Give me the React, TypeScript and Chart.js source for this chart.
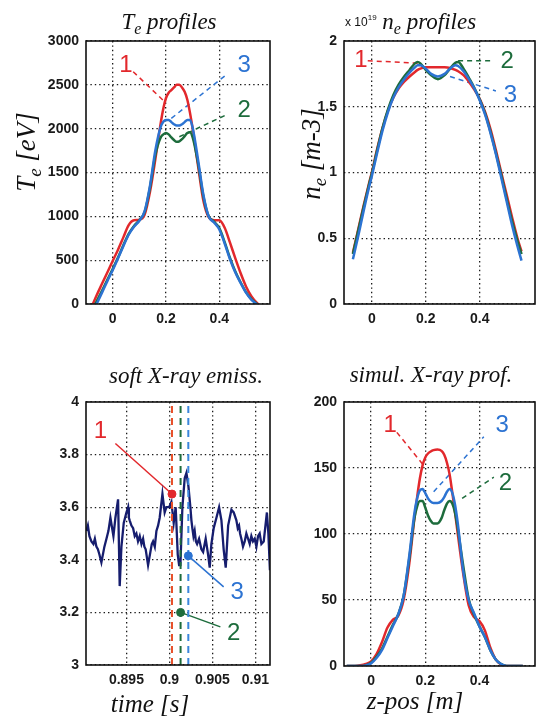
import React, { useEffect, useRef } from "react";
import { Chart, registerables } from "chart.js";
Chart.register(...registerables);

const RED = "#e2282c";
const GREEN = "#1d6c3c";
const BLUE = "#2c73d2";
const NAVY = "#161d6e";

// ---------- T_e profiles ----------
const teZ = [-0.08, -0.06, -0.04, -0.02, 0, 0.02, 0.04, 0.06, 0.08, 0.1, 0.12, 0.14, 0.16, 0.18, 0.19, 0.2, 0.21, 0.22, 0.23, 0.24, 0.25, 0.26, 0.27, 0.28, 0.29, 0.3, 0.32, 0.34, 0.36, 0.38, 0.4, 0.42, 0.44, 0.46, 0.48, 0.5, 0.52, 0.54, 0.56];
const teRed = [-40, 100, 230, 360, 490, 620, 760, 900, 955, 960, 1020, 1280, 1650, 2060, 2230, 2350, 2410, 2440, 2470, 2500, 2500, 2470, 2420, 2330, 2180, 2000, 1580, 1180, 990, 955, 955, 870, 700, 520, 350, 200, 90, 15, -40];
const teGreen = [-90, 30, 150, 275, 400, 530, 670, 800, 890, 955, 1050, 1330, 1700, 1900, 1935, 1950, 1935, 1900, 1870, 1850, 1855, 1880, 1915, 1950, 1960, 1900, 1610, 1230, 1000, 940, 865, 705, 525, 370, 245, 135, 55, 3, -45];
const teBlue = [-130, 0, 130, 260, 386, 520, 660, 790, 880, 950, 1060, 1350, 1750, 2020, 2080, 2100, 2100, 2075, 2050, 2035, 2035, 2050, 2075, 2100, 2100, 2010, 1650, 1250, 1000, 930, 850, 690, 510, 360, 240, 130, 50, 0, -50];

// ---------- n_e profiles (x 10^19) ----------
const neZ = [-0.07, -0.05, -0.03, -0.01, 0, 0.02, 0.04, 0.06, 0.08, 0.1, 0.12, 0.14, 0.16, 0.17, 0.18, 0.2, 0.22, 0.245, 0.27, 0.29, 0.31, 0.32, 0.34, 0.36, 0.38, 0.4, 0.42, 0.44, 0.46, 0.48, 0.5, 0.52, 0.54, 0.555];
const neRed = [0.39, 0.57, 0.75, 0.92, 1.0, 1.18, 1.34, 1.47, 1.57, 1.64, 1.69, 1.73, 1.765, 1.78, 1.79, 1.8, 1.8, 1.8, 1.8, 1.795, 1.78, 1.77, 1.74, 1.69, 1.63, 1.56, 1.46, 1.33, 1.17, 1.0, 0.83, 0.66, 0.5, 0.4];
const neGreen = [0.38, 0.56, 0.74, 0.91, 0.99, 1.17, 1.34, 1.48, 1.59, 1.67, 1.73, 1.78, 1.83, 1.84, 1.83, 1.78, 1.74, 1.71, 1.74, 1.79, 1.835, 1.84, 1.79, 1.72, 1.645, 1.555, 1.45, 1.31, 1.15, 0.98, 0.8, 0.63, 0.48, 0.38];
const neBlue = [0.34, 0.52, 0.71, 0.89, 0.97, 1.15, 1.32, 1.46, 1.57, 1.65, 1.71, 1.76, 1.8, 1.815, 1.815, 1.79, 1.75, 1.73, 1.75, 1.79, 1.815, 1.81, 1.77, 1.71, 1.64, 1.55, 1.44, 1.3, 1.14, 0.96, 0.78, 0.6, 0.44, 0.33];

// ---------- soft X-ray emission ----------
const sxTime = [
  0.89035, 0.89052, 0.8907, 0.89093, 0.89116, 0.89133, 0.89151, 0.89168, 0.89186, 0.89209, 0.89244, 0.89268, 0.89291, 0.89314,
  0.89349, 0.89372, 0.89403, 0.89422, 0.89442, 0.89469, 0.895, 0.8952, 0.89529, 0.89538, 0.89558, 0.89578, 0.89597, 0.89616,
  0.89635, 0.89655, 0.89675, 0.89694, 0.89709, 0.89724, 0.89752, 0.89779, 0.89795, 0.8981, 0.8983, 0.89849, 0.89868, 0.89887,
  0.89919, 0.89945, 0.89965, 0.89997, 0.90023, 0.9005, 0.90073, 0.90097, 0.90113, 0.90128, 0.90151, 0.90178, 0.90198, 0.90221,
  0.90244, 0.90256, 0.90267, 0.9028, 0.90294, 0.90308, 0.90322, 0.90345, 0.90372, 0.90392, 0.90422, 0.9045, 0.90469, 0.90488,
  0.90515, 0.90547, 0.90578, 0.90605, 0.90631, 0.90655, 0.90683, 0.90721, 0.90748, 0.90779, 0.90795, 0.9081, 0.90822, 0.90837,
  0.90856, 0.90876, 0.90895, 0.90915, 0.90934, 0.90953, 0.90972, 0.90992, 0.91012, 0.91031, 0.9105, 0.9107, 0.91097, 0.91134,
  0.91151, 0.91169,
];
const sxSignal = [
  3.51, 3.53, 3.49, 3.47, 3.46, 3.48, 3.45, 3.44, 3.42, 3.39, 3.45, 3.48, 3.51, 3.56,
  3.49, 3.56, 3.63, 3.3, 3.45, 3.54, 3.58, 3.6, 3.56, 3.55, 3.53, 3.52, 3.49, 3.5,
  3.47, 3.49, 3.46, 3.48, 3.45, 3.44, 3.38, 3.43, 3.46, 3.47, 3.45, 3.51, 3.53, 3.56,
  3.65, 3.58, 3.6, 3.6, 3.62, 3.54, 3.6, 3.42, 3.38, 3.38, 3.6, 3.71, 3.73, 3.68,
  3.6, 3.55, 3.52, 3.49, 3.51, 3.47, 3.46, 3.48, 3.44, 3.43, 3.48, 3.42, 3.37, 3.46,
  3.52, 3.56, 3.6, 3.55, 3.44, 3.37, 3.53, 3.59, 3.58, 3.55, 3.52, 3.53, 3.5, 3.48,
  3.45, 3.47, 3.5, 3.48, 3.46, 3.49, 3.47, 3.48, 3.45, 3.49, 3.5, 3.46, 3.47, 3.58,
  3.5, 3.36,
];
const sxMarkTimes = [0.9003, 0.9013, 0.9022]; // 1, 2, 3
const sxMarkValues = [3.65, 3.2, 3.415];

// ---------- simulated X-ray profiles ----------
const xrZ = [-0.09, -0.06, -0.04, -0.02, 0, 0.02, 0.04, 0.06, 0.08, 0.1, 0.12, 0.14, 0.16, 0.17, 0.18, 0.19, 0.2, 0.21, 0.22, 0.23, 0.245, 0.26, 0.27, 0.28, 0.29, 0.3, 0.31, 0.32, 0.34, 0.36, 0.38, 0.4, 0.42, 0.44, 0.46, 0.48, 0.5, 0.53, 0.56];
const xrRed = [0, 0, 0.5, 1.5, 3.5, 9, 18, 29, 35, 38, 50, 76, 112, 128, 142, 152, 158, 161, 162.5, 163.5, 164, 163, 160, 154, 145, 131, 116, 100, 70, 46, 37, 34, 27, 14, 5, 1, 0, 0, 0];
const xrGreen = [0, 0, 0, 0.5, 2.5, 7, 13, 22, 31, 39, 53, 80, 112, 121, 125, 125, 120, 114, 110, 108, 108, 112, 118, 123, 125, 123, 116, 104, 76, 51, 39, 30, 22, 12, 5, 1.5, 0, 0, 0];
const xrBlue = [0, 0, 0, 0.5, 2, 6, 12, 21, 30, 39, 53, 82, 116, 127, 133, 134, 131, 127, 124.5, 123.5, 123.5, 125, 128, 132, 134, 131, 122, 108, 72, 50, 40, 30, 22, 12, 5, 1.5, 0, 0, 0];

// ---------- ticks ----------
const zTicks = [0, 0.2, 0.4];
const zTickLabels = ["0", "0.2", "0.4"];
const teTicks = [0, 500, 1000, 1500, 2000, 2500, 3000];
const teTickLabels = ["0", "500", "1000", "1500", "2000", "2500", "3000"];
const neTicks = [0, 0.5, 1, 1.5, 2];
const neTickLabels = ["0", "0.5", "1", "1.5", "2"];
const sxTicksX = [0.895, 0.9, 0.905, 0.91];
const sxTickLabelsX = ["0.895", "0.9", "0.905", "0.91"];
const sxTicksY = [3, 3.2, 3.4, 3.6, 3.8, 4];
const sxTickLabelsY = ["3", "3.2", "3.4", "3.6", "3.8", "4"];
const xrTicks = [0, 50, 100, 150, 200];
const xrTickLabels = ["0", "50", "100", "150", "200"];

const pts = (xs: number[], ys: number[]) => xs.map((x, i) => ({ x, y: ys[i] }));

const curve = (data: any, color: string, order: number) => ({
  data,
  borderColor: color,
  borderWidth: 2.5,
  pointRadius: 0,
  cubicInterpolationMode: "monotone",
  fill: false,
  order,
});
const leader = (data: any, color: string, dashed = true) => ({
  data,
  borderColor: color,
  borderWidth: 1.5,
  borderDash: dashed ? [5, 4] : [],
  pointRadius: 0,
  tension: 0,
  fill: false,
  order: 10,
});

const SERIF = "'Liberation Serif', 'Times New Roman', serif";
const SANS = "'Liberation Sans', Arial, sans-serif";
const T = (s: number) => `italic ${s}px ${SERIF}`;

type Part = { t: string; f: string; dy?: number };
function rich(ctx: CanvasRenderingContext2D, parts: Part[], x: number, y: number, align: "center" | "left") {
  ctx.textAlign = "left";
  ctx.textBaseline = "alphabetic";
  let w = 0;
  for (const p of parts) {
    ctx.font = p.f;
    w += ctx.measureText(p.t).width;
  }
  let cx = align === "center" ? x - w / 2 : x;
  for (const p of parts) {
    ctx.font = p.f;
    ctx.fillText(p.t, cx, y + (p.dy || 0));
    cx += ctx.measureText(p.t).width;
  }
}

type Mark = { x: number; y: number; text: string; color: string };
type Spec = {
  left: number; top: number; width: number; height: number;
  area: { l: number; t: number; r: number; b: number };
  xMin: number; xMax: number; xTicks: number[]; xLabels: string[];
  yMin: number; yMax: number; yTicks: number[]; yLabels: string[];
  datasets: any[];
  marks: Mark[];
  decorate: (ctx: CanvasRenderingContext2D) => void;
};

function Panel({ spec }: { spec: Spec }) {
  const ref = useRef<HTMLCanvasElement>(null);
  useEffect(() => {
    const tickFont = { family: SANS, size: 14, weight: "bold" as const };
    const grid = { color: "#1a1a1a", lineWidth: 1.3, drawTicks: false };
    const border = { display: false, dash: [1.4, 3] };
    const chart = new Chart(ref.current!, {
      type: "line",
      data: { datasets: spec.datasets },
      options: {
        animation: false,
        responsive: false,
        maintainAspectRatio: false,
        events: [],
        layout: { padding: { left: 0, top: spec.area.t, right: spec.width - spec.area.r, bottom: 0 } },
        plugins: { legend: { display: false }, tooltip: { enabled: false }, title: { display: false } },
        scales: {
          x: {
            type: "linear",
            min: spec.xMin,
            max: spec.xMax,
            afterBuildTicks: (s: any) => { s.ticks = spec.xTicks.map((v) => ({ value: v })); },
            afterFit: (s: any) => { s.height = spec.height - spec.area.b; },
            grid,
            border,
            ticks: { padding: 7, color: "#1a1a1a", font: tickFont, maxRotation: 0, autoSkip: false, callback: (_v: any, i: number) => spec.xLabels[i] },
          },
          y: {
            type: "linear",
            min: spec.yMin,
            max: spec.yMax,
            afterBuildTicks: (s: any) => { s.ticks = spec.yTicks.map((v) => ({ value: v })); },
            afterFit: (s: any) => { s.width = spec.area.l; },
            grid,
            border,
            ticks: { padding: 7, color: "#1a1a1a", font: tickFont, autoSkip: false, callback: (_v: any, i: number) => spec.yLabels[i] },
          },
        },
      } as any,
      plugins: [
        {
          id: "deco",
          afterDraw(c: any) {
            const ctx: CanvasRenderingContext2D = c.ctx;
            const a = c.chartArea;
            ctx.save();
            ctx.strokeStyle = "#111";
            ctx.lineWidth = 1.6;
            ctx.setLineDash([]);
            ctx.strokeRect(a.left, a.top, a.right - a.left, a.bottom - a.top);
            ctx.textAlign = "center";
            ctx.textBaseline = "middle";
            ctx.font = `24px ${SANS}`;
            for (const m of spec.marks) {
              ctx.fillStyle = m.color;
              ctx.fillText(m.text, c.scales.x.getPixelForValue(m.x), c.scales.y.getPixelForValue(m.y));
            }
            ctx.fillStyle = "#111";
            spec.decorate(ctx);
            ctx.restore();
          },
        },
      ],
    });
    return () => chart.destroy();
  }, []);
  return (
    <canvas
      ref={ref}
      width={spec.width}
      height={spec.height}
      style={{ position: "absolute", left: spec.left, top: spec.top, width: spec.width, height: spec.height }}
    />
  );
}

const p1: Spec = {
  left: 0, top: 0, width: 272, height: 340,
  area: { l: 86, t: 41, r: 270, b: 304 },
  xMin: -0.1, xMax: 0.59, xTicks: zTicks, xLabels: zTickLabels,
  yMin: 0, yMax: 3000, yTicks: teTicks, yLabels: teTickLabels,
  datasets: [
    curve(pts(teZ, teBlue), BLUE, 0),
    curve(pts(teZ, teGreen), GREEN, 1),
    curve(pts(teZ, teRed), RED, 2),
    leader([{ x: 0.077, y: 2650 }, { x: 0.188, y: 2327 }], RED),
    leader([{ x: 0.22, y: 2118 }, { x: 0.425, y: 2612 }], BLUE),
    leader([{ x: 0.25, y: 1908 }, { x: 0.425, y: 2156 }], GREEN),
  ],
  marks: [
    { x: 0.05, y: 2726, text: "1", color: RED },
    { x: 0.493, y: 2726, text: "3", color: BLUE },
    { x: 0.493, y: 2213, text: "2", color: GREEN },
  ],
  decorate: (ctx) => {
    rich(ctx, [{ t: "T", f: T(23) }, { t: "e", f: T(16), dy: 5 }, { t: " profiles", f: T(23) }], 169, 29, "center");
    ctx.save();
    ctx.translate(35, 152);
    ctx.rotate(-Math.PI / 2);
    rich(ctx, [{ t: "T", f: T(27) }, { t: "e", f: T(19), dy: 6 }, { t: " [eV]", f: T(27) }], 0, 0, "center");
    ctx.restore();
  },
};

const p2: Spec = {
  left: 272, top: 0, width: 265, height: 340,
  area: { l: 72, t: 41, r: 263, b: 304 },
  xMin: -0.103, xMax: 0.605, xTicks: zTicks, xLabels: zTickLabels,
  yMin: 0, yMax: 2, yTicks: neTicks, yLabels: neTickLabels,
  datasets: [
    curve(pts(neZ, neBlue), BLUE, 0),
    curve(pts(neZ, neGreen), GREEN, 1),
    curve(pts(neZ, neRed), RED, 2),
    leader([{ x: -0.015, y: 1.85 }, { x: 0.18, y: 1.83 }], RED),
    leader([{ x: 0.32, y: 1.85 }, { x: 0.45, y: 1.85 }], GREEN),
    leader([{ x: 0.29, y: 1.73 }, { x: 0.46, y: 1.62 }], BLUE),
  ],
  marks: [
    { x: -0.04, y: 1.855, text: "1", color: RED },
    { x: 0.502, y: 1.842, text: "2", color: GREEN },
    { x: 0.514, y: 1.587, text: "3", color: BLUE },
  ],
  decorate: (ctx) => {
    rich(
      ctx,
      [
        { t: "x 10", f: `12px ${SANS}`, dy: -3 },
        { t: "19", f: `8px ${SANS}`, dy: -9 },
        { t: " n", f: T(23) },
        { t: "e", f: T(16), dy: 5 },
        { t: " profiles", f: T(23) },
      ],
      73, 29, "left"
    );
    ctx.save();
    ctx.translate(48, 154);
    ctx.rotate(-Math.PI / 2);
    rich(ctx, [{ t: "n", f: T(27) }, { t: "e", f: T(19), dy: 6 }, { t: " [m-3]", f: T(27) }], 0, 0, "center");
    ctx.restore();
  },
};

const p3: Spec = {
  left: 0, top: 340, width: 292, height: 380,
  area: { l: 86, t: 62, r: 270, b: 325 },
  xMin: 0.8903, xMax: 0.9117, xTicks: sxTicksX, xLabels: sxTickLabelsX,
  yMin: 3, yMax: 4, yTicks: sxTicksY, yLabels: sxTickLabelsY,
  datasets: [
    { data: pts(sxTime, sxSignal), borderColor: NAVY, borderWidth: 2.3, pointRadius: 0, tension: 0, fill: false, order: 5 },
    { ...leader([{ x: sxMarkTimes[0], y: 3 }, { x: sxMarkTimes[0], y: 4 }], "#e8502a"), borderWidth: 2, borderDash: [7, 5], order: 3 },
    { ...leader([{ x: sxMarkTimes[1], y: 3 }, { x: sxMarkTimes[1], y: 4 }], GREEN), borderWidth: 2, borderDash: [7, 5], order: 3 },
    { ...leader([{ x: sxMarkTimes[2], y: 3 }, { x: sxMarkTimes[2], y: 4 }], "#3a86dc"), borderWidth: 2, borderDash: [7, 5], order: 3 },
    leader([{ x: 0.89372, y: 3.842 }, { x: sxMarkTimes[0], y: sxMarkValues[0] }], RED, false),
    leader([{ x: sxMarkTimes[2], y: sxMarkValues[2] }, { x: 0.90631, y: 3.297 }], BLUE, false),
    leader([{ x: sxMarkTimes[1], y: sxMarkValues[1] }, { x: 0.90593, y: 3.145 }], GREEN, false),
    { data: [{ x: sxMarkTimes[0], y: sxMarkValues[0] }], showLine: false, pointRadius: 4, pointBackgroundColor: RED, pointBorderColor: RED, order: 0 },
    { data: [{ x: sxMarkTimes[1], y: sxMarkValues[1] }], showLine: false, pointRadius: 4, pointBackgroundColor: GREEN, pointBorderColor: GREEN, order: 0 },
    { data: [{ x: sxMarkTimes[2], y: sxMarkValues[2] }], showLine: false, pointRadius: 4, pointBackgroundColor: BLUE, pointBorderColor: BLUE, order: 0 },
  ],
  marks: [
    { x: 0.89198, y: 3.89, text: "1", color: RED },
    { x: 0.90787, y: 3.277, text: "3", color: BLUE },
    { x: 0.90748, y: 3.12, text: "2", color: GREEN },
  ],
  decorate: (ctx) => {
    rich(ctx, [{ t: "soft X-ray emiss.", f: T(23) }], 186, 43, "center");
    rich(ctx, [{ t: "time [s]", f: T(25) }], 150, 372, "center");
  },
};

const p4: Spec = {
  left: 272, top: 340, width: 265, height: 380,
  area: { l: 72, t: 62, r: 263, b: 326 },
  xMin: -0.1, xMax: 0.605, xTicks: zTicks, xLabels: zTickLabels,
  yMin: 0, yMax: 200, yTicks: xrTicks, yLabels: xrTickLabels,
  datasets: [
    curve(pts(xrZ, xrBlue), BLUE, 0),
    curve(pts(xrZ, xrGreen), GREEN, 1),
    curve(pts(xrZ, xrRed), RED, 2),
    leader([{ x: 0.095, y: 177 }, { x: 0.194, y: 152 }], RED),
    leader([{ x: 0.231, y: 132 }, { x: 0.416, y: 173.6 }], BLUE),
    leader([{ x: 0.336, y: 127 }, { x: 0.453, y: 143 }], GREEN),
  ],
  marks: [
    { x: 0.07, y: 182.4, text: "1", color: RED },
    { x: 0.484, y: 182, text: "3", color: BLUE },
    { x: 0.496, y: 138, text: "2", color: GREEN },
  ],
  decorate: (ctx) => {
    rich(ctx, [{ t: "simul. X-ray prof.", f: T(23) }], 159, 42, "center");
    rich(ctx, [{ t: "z-pos [m]", f: T(25) }], 143, 369, "center");
  },
};

export default function App() {
  return (
    <div style={{ position: "absolute", left: 0, top: 0, width: 537, height: 720, background: "#fff", overflow: "hidden" }}>
      <Panel spec={p1} />
      <Panel spec={p2} />
      <Panel spec={p3} />
      <Panel spec={p4} />
    </div>
  );
}
